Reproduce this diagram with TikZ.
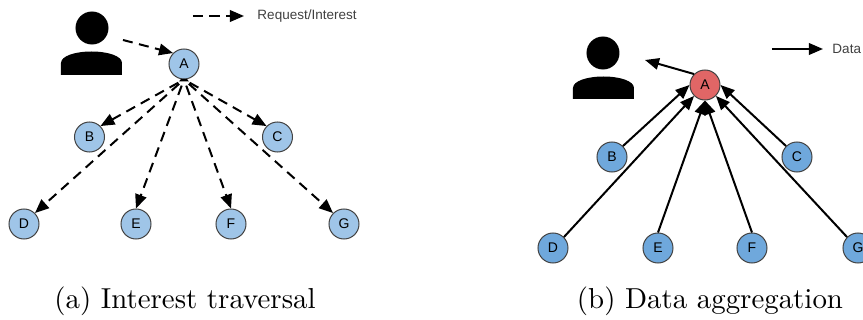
\documentclass[tikz,border=0pt]{standalone}
\usepackage{fontspec}
\newfontfamily\labelfont{Liberation Sans}
\usepackage{tikz}
\usetikzlibrary{arrows.meta,positioning}
\definecolor{lightblue}{HTML}{9FC5E8}
\definecolor{midblue}{HTML}{6FA8DC}
\definecolor{redfill}{HTML}{E06666}
\definecolor{rim}{HTML}{434343}
\begin{document}
\begin{tikzpicture}[x=0.4pt,y=-0.4pt,
                    tip/.style={-{Triangle[length=5.6pt,width=4.6pt]},line width=0.8pt},
                    req/.style={tip,dash pattern=on 4pt off 2.6pt},
                    dat/.style={tip},
                    peer/.style={circle,draw=rim,line width=0.4pt,minimum size=12pt,inner sep=0pt,font=\labelfont\fontsize{5.6}{6}\selectfont},
                    leaf/.style={peer,fill=lightblue},
                    leafb/.style={peer,fill=midblue},
                    head/.style={circle,fill=black,minimum size=13.2pt,inner sep=0pt},
                    legend/.style={font=\labelfont\fontsize{5.4}{7}\selectfont,anchor=west,text=black!75,inner sep=0pt},
                    caption/.style={scale=1.155,inner sep=0pt}]
                    \useasboundingbox (0,0) rectangle (863,320);
                    % left tree
                    \node[leaf](a1) at (184,64){A};
                    \node[leaf](b1) at (89.5,137){B};
                    \node[leaf](c1) at (277.5,137){C};
                    \node[leaf](d1) at (24,224){D};
                    \node[leaf](e1) at (136,224){E};
                    \node[leaf](f1) at (231,224){F};
                    \node[leaf](g1) at (344,224){G};
                    \node[head](u1) at (92,28){};
                    \fill (61,75) -- (61,63) .. controls (61,56) and (75,51.5) .. (91.5,51.5) .. controls (108,51.5) and (122,56) .. (122,63) -- (122,75) -- cycle;
                    \coordinate (s1) at (123,40);
                    \coordinate (k1) at (193,16);
                    \coordinate (k2) at (244,16);
                    \node[legend](t1) at (257,16){Request/Interest};
                    \fill (179,81.5) -- (181,79) -- (187,79) -- (189,81.5) -- cycle;
                    \path[req] (s1) edge (a1.north west)
                    (k1) edge (k2)
                    (a1.south) edge [shorten <=2.6pt] (b1.north east)
                    (a1.south) edge [shorten <=2.6pt] (c1.north west)
                    (a1.south) edge [shorten <=2.6pt] (d1.north east)
                    (a1.south) edge [shorten <=2.6pt] (e1.north)
                    (a1.south) edge [shorten <=2.6pt] (f1.north)
                    (a1.south) edge [shorten <=2.6pt] (g1.north west);
                    % right tree
                    \node[peer,fill=redfill](a2) at (705,85){A};
                    \node[leafb](b2) at (612,157){B};
                    \node[leafb](c2) at (797,157){C};
                    \node[leafb](d2) at (553,248){D};
                    \node[leafb](e2) at (658,248){E};
                    \node[leafb](f2) at (752,248){F};
                    \node[leafb](g2) at (858,248){G};
                    \node[head](u2) at (603,53){};
                    \fill (573,99) -- (573,88) .. controls (573,81) and (587,76.5) .. (603.5,76.5) .. controls (620,76.5) and (634,81) .. (634,88) -- (634,99) -- cycle;
                    \coordinate (s2) at (645,60);
                    \coordinate (k3) at (772,49);
                    \coordinate (k4) at (823,49);
                    \node[legend](t2) at (832,49){Data};
                    \path[dat] (a2.north west) edge (s2)
                    (k3) edge (k4)
                    (b2.north east) edge (a2.west)
                    (c2.north west) edge (a2.east)
                    (d2.north east) edge (a2.south west)
                    (e2.north) edge (a2.south)
                    (f2.north) edge (a2.south)
                    (g2.north west) edge (a2.south east);
                    % captions
                    \node[caption](cap1) at (185,301){(a) Interest traversal};
                    \node[caption](cap2) at (710,301){(b) Data aggregation};
                \end{tikzpicture}
\end{document}
